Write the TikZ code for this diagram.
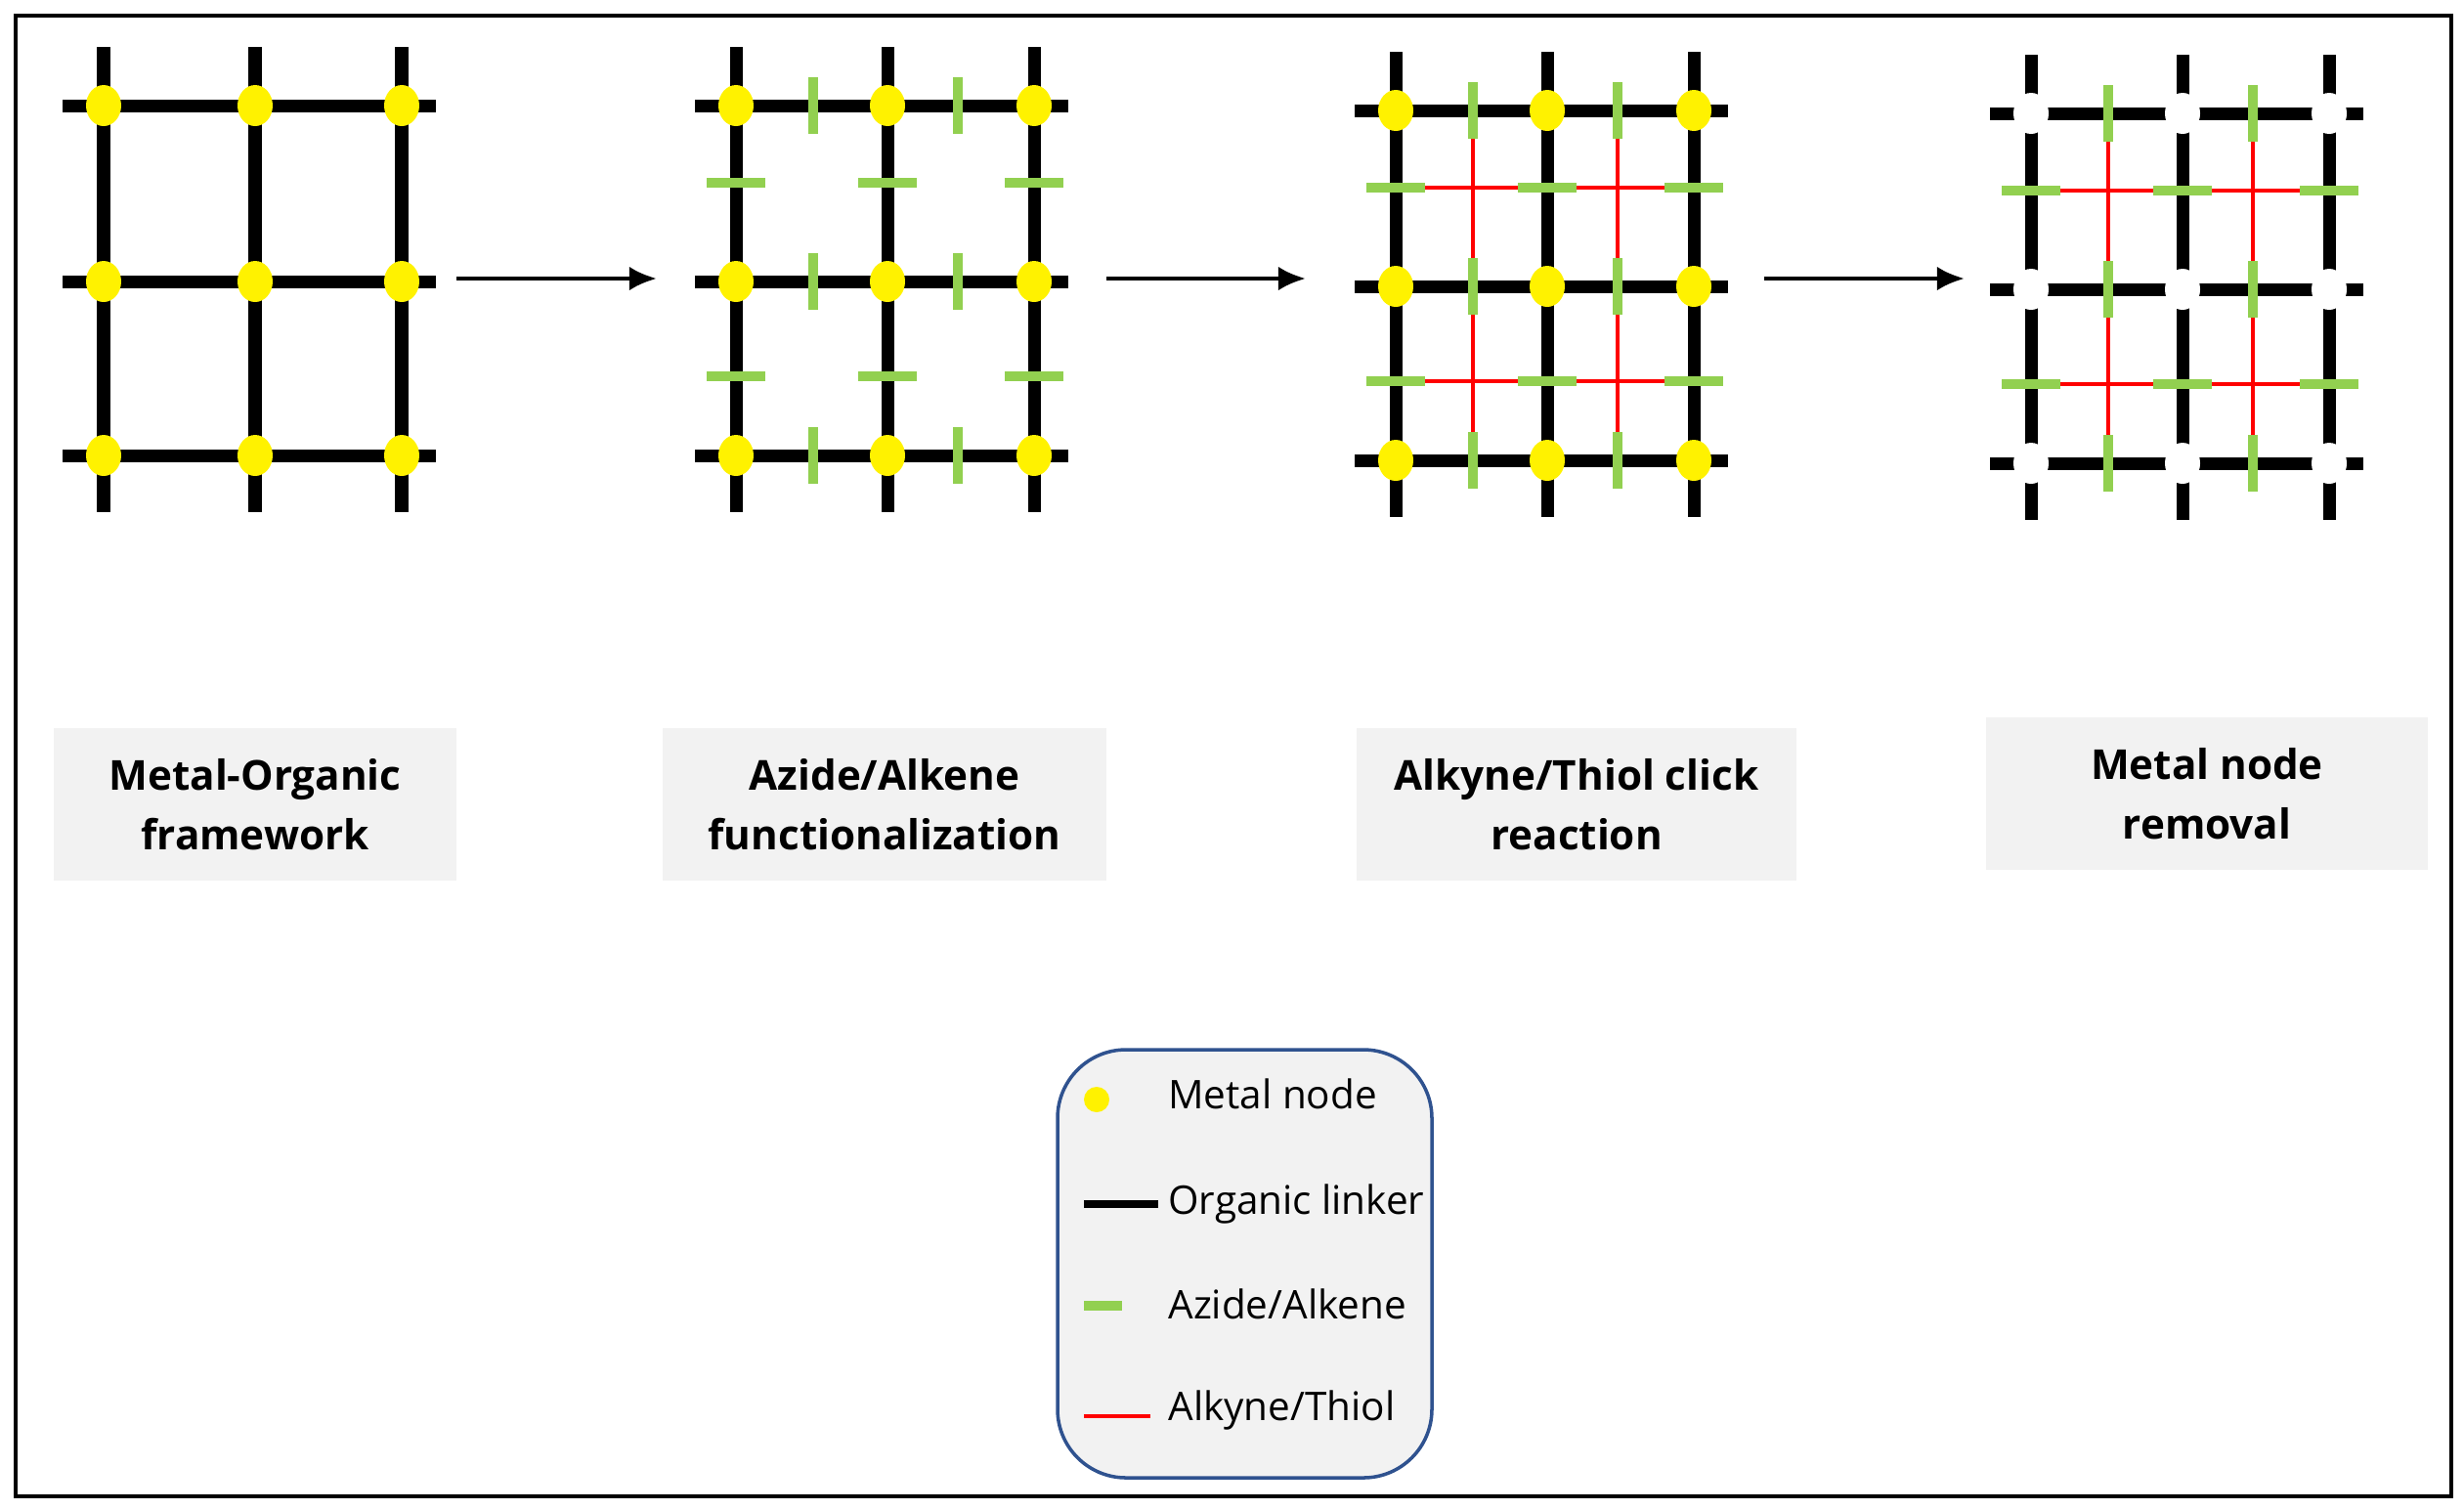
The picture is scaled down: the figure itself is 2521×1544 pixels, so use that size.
\documentclass[tikz,border=0pt]{standalone}
\usepackage{fontspec}
\setmainfont{Open Sans}
\usetikzlibrary{arrows.meta}
\begin{document}
\begin{tikzpicture}[x=0.01cm,y=-0.01cm,
  link/.style={line width=3.7pt,black},
  grn/.style={line width=2.6pt,draw={rgb,255:red,146;green,208;blue,80}},
  rd/.style={line width=1.4pt,red},
  metal/.style={fill=yellow,draw=none},
  hole/.style={fill=white,draw=none},
  lbl/.style={fill={rgb,255:red,242;green,242;blue,242},minimum width=4.12cm,minimum height=1.56cm,align=center,font=\fontsize{12}{17.5}\selectfont\bfseries},
  stepar/.style={line width=1.3pt,-{Latex[length=8pt,width=7pt]}}]
\useasboundingbox (0,0) rectangle (2521,1544);
\draw[line width=1pt] (16,16) rectangle (2508,1531);
\newcommand\mofbase{%
  \foreach \x in {0,155,305} \draw[link] (\x,-60) -- (\x,416);
  \foreach \y in {0,180,358} \draw[link] (-42,\y) -- (340,\y);}
\newcommand\mofgreen{%
  \foreach \x in {79,227} \foreach \y in {0,180,358} \draw[grn] (\x,\y-29) -- (\x,\y+29);
  \foreach \y in {79,277} \foreach \x in {0,155,305} \draw[grn] (\x-30,\y) -- (\x+30,\y);}
\newcommand\mofred{%
  \foreach \x in {79,227} \foreach \a/\b in {29/151,209/329} \draw[rd] (\x,\a) -- (\x,\b);
  \foreach \y in {79,277} \foreach \a/\b in {30/125,185/275} \draw[rd] (\a,\y) -- (\b,\y);}
\newcommand\mofnodes[1]{%
  \foreach \x in {0,155,305} \foreach \y in {0,180,358} \fill[#1] (\x,\y) ellipse (18 and 21);}
\begin{scope}[shift={(106,108)}]\mofbase\mofnodes{metal}\end{scope}
\begin{scope}[shift={(753,108)}]\mofbase\mofgreen\mofnodes{metal}\end{scope}
\begin{scope}[shift={(1428,113)}]\mofbase\mofred\mofgreen\mofnodes{metal}\end{scope}
\begin{scope}[shift={(2078,116)}]\mofbase\mofnodes{hole}\mofred\mofgreen\end{scope}
\coordinate (a1s) at (467,285); \coordinate (a1e) at (672,285);
\coordinate (a2s) at (1132,285); \coordinate (a2e) at (1336,285);
\coordinate (a3s) at (1805,285); \coordinate (a3e) at (2010,285);
\draw[stepar] (a1s) -- (a1e);
\draw[stepar] (a2s) -- (a2e);
\draw[stepar] (a3s) -- (a3e);
\node[lbl] (l1) at (261,823) {Metal-Organic\\framework};
\node[lbl,minimum width=4.53cm] (l2) at (905,823) {Azide/Alkene\\functionalization};
\node[lbl,minimum width=4.5cm] (l3) at (1613,823) {Alkyne/Thiol click\\reaction};
\node[lbl,minimum width=4.51cm] (l4) at (2258,812) {Metal node\\removal};
\draw[draw={rgb,255:red,47;green,82;blue,143},line width=1pt,fill={rgb,255:red,242;green,242;blue,242},rounded corners=0.7cm] (1082,1074) rectangle (1465,1512);
\fill[yellow] (1122,1125) circle (13);
\draw[line width=2.2pt] (1109,1232) -- (1185,1232);
\draw[grn] (1109,1336) -- (1148,1336);
\draw[line width=1.1pt,red] (1109,1449) -- (1177,1449);
\begin{scope}[every node/.style={anchor=west,font=\fontsize{11.5}{13}\selectfont}]
\node (t1) at (1183,1119) {Metal node};
\node (t2) at (1183,1232) {Organic linker};
\node (t3) at (1183,1334) {Azide/Alkene};
\node (t4) at (1183,1443) {Alkyne/Thiol};
\end{scope}
\end{tikzpicture}
\end{document}
